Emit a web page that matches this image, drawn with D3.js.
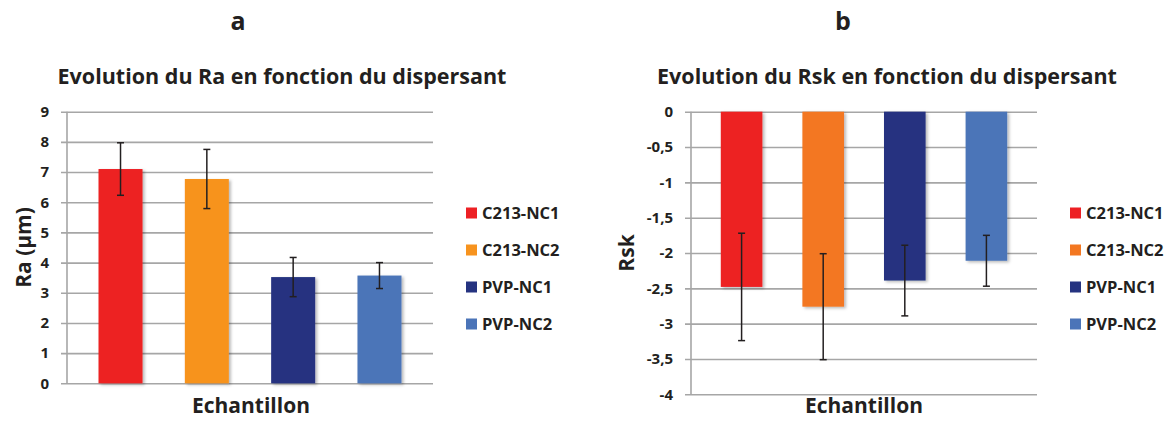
<!DOCTYPE html>
<html>
<head>
<meta charset="utf-8">
<script src="https://cdn.jsdelivr.net/npm/d3@7"></script>
<style>
  body { margin: 0; background: #fff; }
  text { font-family: "Open Sans", sans-serif; font-weight: bold; fill: #231f20; }
</style>
</head>
<body>
<svg id="chart" width="1171" height="428"></svg>
<script>
// data
const series = ["C213-NC1", "C213-NC2", "PVP-NC1", "PVP-NC2"];
const raValues = [7.1, 6.77, 3.52, 3.57];
const raErrors = [0.87, 0.98, 0.65, 0.43];
const rskValues = [-2.48, -2.76, -2.39, -2.11];
const rskErrors = [0.76, 0.75, 0.50, 0.36];
const raTicks = [0, 1, 2, 3, 4, 5, 6, 7, 8, 9];
const rskTicks = [0, -0.5, -1, -1.5, -2, -2.5, -3, -3.5, -4];
const colorsA = ["#ed2024", "#f7931e", "#253380", "#4b74b8"];
const colorsB = ["#ed2024", "#f37721", "#253380", "#4b74b8"];

const svg = d3.select("#chart");

// soft shadow under bars, like the spreadsheet export
const defs = svg.append("defs");
defs.append("filter")
    .attr("id", "shadow")
    .attr("x", "-20%").attr("y", "-20%").attr("width", "140%").attr("height", "140%")
  .append("feDropShadow")
    .attr("dx", 2).attr("dy", 1.5)
    .attr("stdDeviation", 1.5)
    .attr("flood-color", "#000")
    .attr("flood-opacity", 0.28);

drawPanel({
  letter: "a", letterX: 238,
  title: "Evolution du Ra en fonction du dispersant", titleX: 282,
  ylabel: "Ra (µm)", ylabelX: 31,
  left: 67, right: 433, top: 111.7, bottom: 383.3,
  domain: [0, 9], ticks: raTicks,
  values: raValues, errors: raErrors, colors: colorsA,
  xlabelX: 251, legendX: 466
});

drawPanel({
  letter: "b", letterX: 843,
  title: "Evolution du Rsk en fonction du dispersant", titleX: 887,
  ylabel: "Rsk", ylabelX: 634,
  left: 691, right: 1037, top: 111.7, bottom: 394.3,
  domain: [-4, 0], ticks: rskTicks,
  values: rskValues, errors: rskErrors, colors: colorsB,
  xlabelX: 864, legendX: 1070
});

function drawPanel(c) {
  const g = svg.append("g");

  const x = d3.scaleBand()
      .domain(series)
      .range([c.left, c.right])
      .paddingInner(0.49)
      .paddingOuter(0.365);

  const y = d3.scaleLinear()
      .domain(c.domain)
      .range([c.bottom, c.top]);

  // panel letter + title
  g.append("text")
      .attr("x", c.letterX).attr("y", 30)
      .attr("text-anchor", "middle")
      .style("font-size", "25px")
      .text(c.letter);

  g.append("text")
      .attr("x", c.titleX).attr("y", 84)
      .attr("text-anchor", "middle")
      .style("font-size", "21.5px")
      .text(c.title);

  // gridlines + tick labels
  const axis = d3.axisLeft(y)
      .tickValues(c.ticks)
      .tickSize(-(c.right - c.left + 6))
      .tickPadding(12)
      .tickFormat(d => String(d).replace(".", ","));

  const ax = g.append("g")
      .attr("transform", "translate(" + (c.left - 6) + ",0)")
      .call(axis);
  ax.select(".domain").remove();
  ax.selectAll(".tick line")
      .attr("stroke", "#a6a6a6")
      .attr("stroke-width", 1.6);
  ax.selectAll(".tick text")
      .attr("fill", "#231f20")
      .style("font-size", "15px")
      .style("font-family", "'Open Sans', sans-serif")
      .style("font-weight", "bold");

  g.append("line")
      .attr("x1", c.left).attr("x2", c.left)
      .attr("y1", c.top).attr("y2", c.bottom)
      .attr("stroke", "#a6a6a6")
      .attr("stroke-width", 1.6);

  // bars
  g.selectAll("rect.bar")
    .data(series)
    .join("rect")
      .attr("class", "bar")
      .attr("x", d => x(d))
      .attr("width", x.bandwidth())
      .attr("y", (d, i) => Math.min(y(0), y(c.values[i])))
      .attr("height", (d, i) => Math.abs(y(c.values[i]) - y(0)))
      .attr("fill", (d, i) => c.colors[i])
      .attr("filter", "url(#shadow)");

  // error bars
  const eb = g.selectAll("g.err")
    .data(series)
    .join("g")
      .attr("class", "err")
      .attr("stroke", "#231f20")
      .attr("stroke-width", 1.5);

  const cx = d => x(d) + x.bandwidth() / 2;
  eb.append("line")
      .attr("x1", cx).attr("x2", cx)
      .attr("y1", (d, i) => y(c.values[i] + c.errors[i]))
      .attr("y2", (d, i) => y(c.values[i] - c.errors[i]));
  eb.append("line")
      .attr("x1", d => cx(d) - 3.5).attr("x2", d => cx(d) + 3.5)
      .attr("y1", (d, i) => y(c.values[i] + c.errors[i]))
      .attr("y2", (d, i) => y(c.values[i] + c.errors[i]));
  eb.append("line")
      .attr("x1", d => cx(d) - 3.5).attr("x2", d => cx(d) + 3.5)
      .attr("y1", (d, i) => y(c.values[i] - c.errors[i]))
      .attr("y2", (d, i) => y(c.values[i] - c.errors[i]));

  // axis titles
  g.append("text")
      .attr("x", c.xlabelX).attr("y", 413)
      .attr("text-anchor", "middle")
      .style("font-size", "21px")
      .text("Echantillon");

  g.append("text")
      .attr("transform", "translate(" + c.ylabelX + "," + ((c.top + c.bottom) / 2) + ") rotate(-90)")
      .attr("text-anchor", "middle")
      .style("font-size", "21px")
      .text(c.ylabel);

  // legend
  const legY = d3.scalePoint()
      .domain(series)
      .range([213, 324]);

  const leg = g.selectAll("g.leg")
    .data(series)
    .join("g")
      .attr("class", "leg")
      .attr("transform", d => "translate(" + c.legendX + "," + legY(d) + ")");
  leg.append("rect")
      .attr("x", 0).attr("y", -5.5)
      .attr("width", 11).attr("height", 11)
      .attr("fill", (d, i) => c.colors[i]);
  leg.append("text")
      .attr("x", 16).attr("y", 6)
      .style("font-size", "16.5px")
      .text(d => d);
}
</script>
</body>
</html>
